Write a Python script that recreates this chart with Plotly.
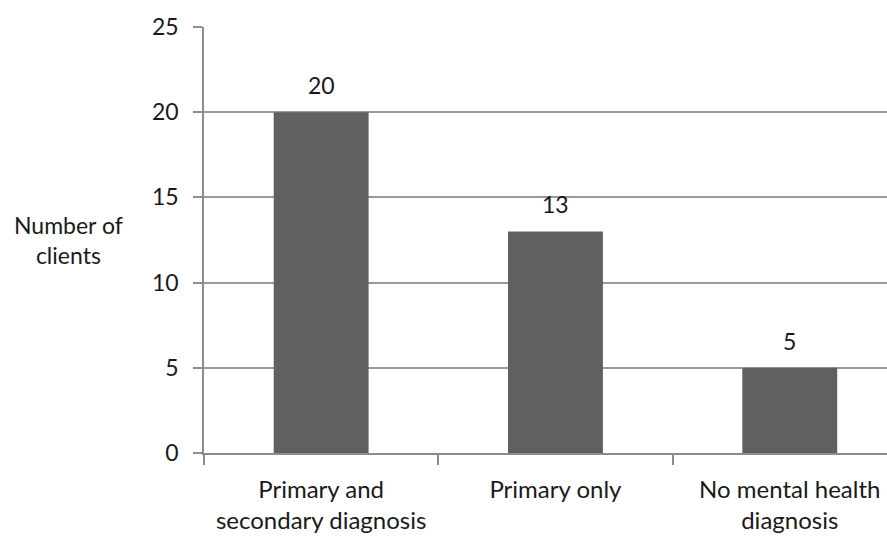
import plotly.graph_objects as go

categories = ["Primary and<br>secondary diagnosis", "Primary only", "No mental health<br>diagnosis"]
clients = [20, 13, 5]
y_ticks = [0, 5, 10, 15, 20, 25]

font_family = "Lato, 'Open Sans', sans-serif"
text_color = "#1a1a1a"
axis_color = "#8c8c8c"

fig = go.Figure()
fig.add_trace(go.Bar(
    x=categories,
    y=clients,
    width=0.405,
    marker=dict(color="#606060", line=dict(width=0)),
    hoverinfo="skip",
))

# Value labels above each bar
for cat, val in zip(categories, clients):
    fig.add_annotation(
        x=cat, y=val, text=str(val), showarrow=False,
        yanchor="bottom", yshift=11,
        font=dict(family=font_family, size=23, color=text_color),
    )

# Horizontal axis title on the left
fig.add_annotation(
    xref="paper", yref="paper", x=-0.198, y=0.50,
    text="Number of<br>clients", showarrow=False,
    xanchor="center", yanchor="middle", align="center",
    font=dict(family=font_family, size=23, color=text_color),
)

fig.update_layout(
    width=887, height=539,
    margin=dict(l=204, r=0, t=27, b=86),
    paper_bgcolor="white", plot_bgcolor="white",
    showlegend=False,
    font=dict(family=font_family, size=23, color=text_color),
    xaxis=dict(
        type="category",
        range=[-0.5, 2.415],
        showline=True, linecolor=axis_color, linewidth=1.5,
        ticks="outside", tickson="boundaries", ticklen=10,
        tickcolor=axis_color, tickwidth=1.5,
        ticklabelstandoff=14,
        showgrid=False, zeroline=False,
        tickfont=dict(family=font_family, size=24, color=text_color),
        fixedrange=True,
    ),
    yaxis=dict(
        range=[0, 25],
        tickvals=y_ticks,
        showline=True, linecolor=axis_color, linewidth=1.5,
        ticks="outside", ticklen=9, tickcolor=axis_color, tickwidth=1.5,
        ticklabelstandoff=10,
        showgrid=True, gridcolor="#9a9a9a", gridwidth=1.5,
        zeroline=False,
        tickfont=dict(family=font_family, size=23, color=text_color),
        fixedrange=True,
    ),
)

fig.write_html("out.html")
